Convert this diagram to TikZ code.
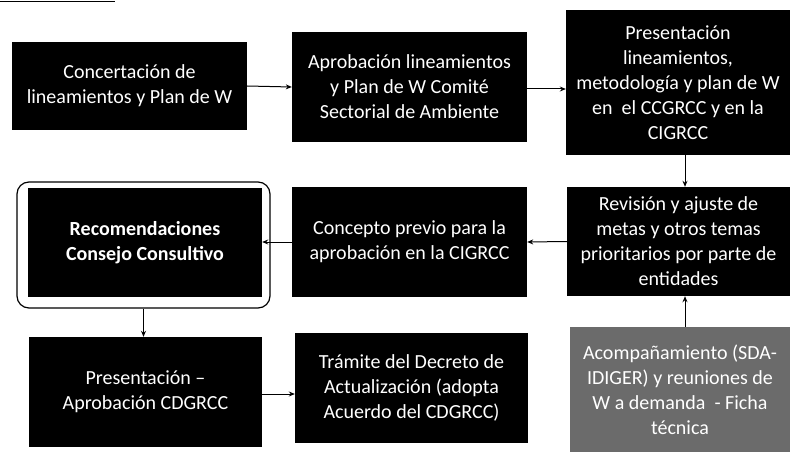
\documentclass[tikz,border=0pt]{standalone}
\usepackage{fontspec}
\setmainfont{Carlito}
\usetikzlibrary{arrows.meta}
\begin{document}
\begin{tikzpicture}[x=1pt,y=-1pt,
  blk/.style={fill=black,text=white,align=center,inner sep=2pt,
    font=\fontsize{20}{25}\selectfont},
  gry/.style={blk,fill=black!58},
  arr/.style={draw=black,line width=1pt,-{Stealth[length=6pt,width=5pt]}}]
\useasboundingbox (0,0) rectangle (793,452);
\fill[white] (0,0) rectangle (793,452);
\draw[line width=1pt] (0,2) -- (115,2);
\node[blk,minimum width=235,minimum height=88] (n1) at (129.5,86)
  {Concertación de\\lineamientos y Plan de W};
\node[blk,minimum width=235,minimum height=110] (n2) at (409.5,87)
  {Aprobación lineamientos\\y Plan de W Comité\\Sectorial de Ambiente};
\node[blk,minimum width=224,minimum height=145,inner sep=0pt] (n3) at (678,82.5)
  {Presentación\\lineamientos,\\metodología y plan de W\\en \ el CCGRCC y en la\\CIGRCC};
\node[blk,minimum width=223,minimum height=109] (n4) at (678.5,241.5)
  {Revisión y ajuste de\\metas y otros temas\\prioritarios por parte de\\entidades};
\node[blk,minimum width=235,minimum height=110] (n5) at (409.5,242)
  {Concepto previo para la\\aprobación en la CIGRCC};
\node[blk,minimum width=234,minimum height=109,font=\fontsize{20}{25}\selectfont\bfseries] (n6) at (145,242.5)
  {Recomendaciones\\Consejo Consultivo};
\node[draw=black,line width=1.2pt,rounded corners=12pt,minimum width=253,minimum height=126] (n6o) at (143.5,245) {};
\node[blk,minimum width=233,minimum height=110] (n7) at (145.5,392)
  {Presentación –\\Aprobación CDGRCC};
\node[blk,minimum width=233,minimum height=110] (n8) at (411.5,388)
  {Trámite del Decreto de\\Actualización (adopta\\Acuerdo del CDGRCC)};
\node[gry,minimum width=220,minimum height=125] (n9) at (680,389.5)
  {Acompañamiento (SDA-\\IDIGER) y reuniones de\\W a demanda \ - Ficha\\técnica};
\draw[arr] (n1.east) -- (n2.west);
\draw[arr] ([yshift=-2]n2.east) -- ([yshift=-2]n2.east -| n3.west);
\draw[arr] ([xshift=7]n3.south) -- ([xshift=7]n3.south |- n4.north);
\draw[arr] (n4.west) -- (n5.west -| n5.east);
\draw[arr] (n5.west) -- (n5.west -| n6.east);
\draw[arr] (n6o.south) -- (n6o.south |- n7.north);
\draw[arr] ([yshift=-2]n7.east) -- ([yshift=-2]n7.east -| n8.west);
\draw[arr] ([xshift=5]n9.north) -- ([xshift=5]n9.north |- n4.south);
\end{tikzpicture}
\end{document}
